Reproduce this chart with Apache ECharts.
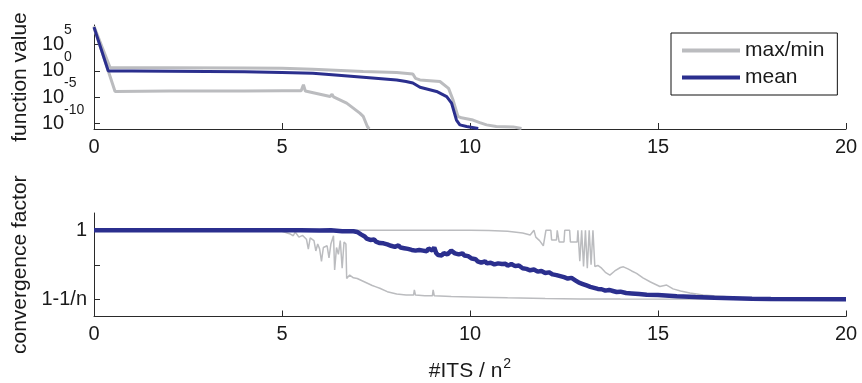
<!DOCTYPE html>
<html>
<head>
<meta charset="utf-8">
<script src="https://cdn.jsdelivr.net/npm/echarts@6/dist/echarts.min.js"></script>
<style>
html,body{margin:0;padding:0;background:#fff;}
#chart{width:862px;height:383px;}
</style>
</head>
<body>
<div id="chart"></div>
<script>
// ---------- data ----------
const xTicks = [0, 5, 10, 15, 20];
const topYTickExp = [-10, -5, 0, 5];          // 10^k tick labels
const botYTicks = [0, 1, 2];                   // 0 -> "1-1/n", 2 -> "1"
const botYTickLabels = ['1-1/n', '', '1'];

// top panel: function value (raw values, shown on a log10 scale)
const topMeanX = [0, 0.38, 1, 2, 3, 4, 5, 5.82, 6.5, 7.16, 8.05, 8.3, 8.48, 8.67, 9.11, 9.38, 9.51, 9.64, 9.73, 9.91, 10.22];
const topMeanY = [2e8, 1, 1, 0.9, 0.8, 0.7, 0.5, 0.37, 0.15, 0.063, 0.02, 0.01, 0.005, 8e-4, 1.3e-4, 1.4e-5, 8e-7, 5e-10, 6e-11, 3e-11, 1.3e-11];
const topMaxX = [0, 0.43, 2, 4, 5, 5.82, 7.16, 8.05, 8.48, 8.55, 8.67, 9.2, 9.43, 9.55, 9.68, 9.77, 10.08, 10.26, 10.44, 10.7, 11.15, 11.37];
const topMaxY = [3e8, 4, 4, 3.5, 3.2, 2, 0.75, 0.5, 0.27, 0.04, 0.02, 0.01, 5e-4, 3e-6, 2.5e-9, 1.3e-9, 5e-10, 1.6e-10, 6e-11, 3e-11, 2.5e-11, 1.2e-11];
const topMinX = [0, 0.56, 2, 4, 5, 5.51, 5.57, 5.62, 6.28, 6.33, 6.37, 6.72, 7.07, 7.16, 7.2, 7.27, 7.32];
const topMinY = [1.5e8, 1.3e-4, 1.5e-4, 1.6e-4, 1.8e-4, 1.8e-4, 2.5e-3, 1.6e-4, 1.4e-5, 4e-5, 1.2e-5, 8e-7, 1e-8, 2.5e-9, 5e-10, 3e-11, 1e-11];

// bottom panel: convergence factor (axis units: 0 = 1-1/n, 2 = 1)
const botMeanX = [0, 5, 5.5, 6, 6.3, 6.6, 6.9, 6.95, 7.0, 7.05, 7.1, 7.15, 7.2, 7.25, 7.3, 7.35, 7.4, 7.45, 7.5, 7.55, 7.6, 7.65, 7.7, 7.75, 7.8, 7.85, 7.9, 7.95, 8.0, 8.05, 8.1, 8.15, 8.2, 8.25, 8.3, 8.35, 8.4, 8.45, 8.5, 8.55, 8.6, 8.65, 8.7, 8.75, 8.8, 8.85, 8.9, 8.95, 9.0, 9.05, 9.1, 9.15, 9.2, 9.25, 9.3, 9.35, 9.4, 9.45, 9.5, 9.55, 9.6, 9.65, 9.7, 9.75, 9.8, 9.85, 9.9, 9.95, 10.0, 10.05, 10.1, 10.15, 10.2, 10.25, 10.3, 10.35, 10.4, 10.45, 10.5, 10.55, 10.6, 10.65, 10.7, 10.75, 10.8, 10.85, 10.9, 10.95, 11.0, 11.05, 11.1, 11.15, 11.2, 11.25, 11.3, 11.35, 11.4, 11.45, 11.5, 11.55, 11.6, 11.65, 11.7, 11.75, 11.8, 11.85, 11.9, 11.95, 12.0, 12.05, 12.1, 12.15, 12.2, 12.25, 12.3, 12.35, 12.4, 12.45, 12.5, 12.55, 12.6, 12.65, 12.7, 12.75, 12.8, 12.85, 12.9, 12.95, 13.0, 13.05, 13.1, 13.15, 13.2, 13.25, 13.3, 13.35, 13.4, 13.45, 13.5, 13.55, 13.6, 13.7, 13.8, 13.9, 14.0, 14.15, 14.3, 14.5, 14.7, 15.0, 15.5, 16.0, 16.5, 17.0, 17.5, 18, 20];
const botMeanY = [2.0, 2.0, 2.0, 1.99, 2.0, 1.97, 1.97, 1.94, 1.95, 1.9, 1.88, 1.84, 1.82, 1.76, 1.74, 1.72, 1.7, 1.73, 1.67, 1.68, 1.63, 1.66, 1.62, 1.65, 1.59, 1.6, 1.55, 1.57, 1.52, 1.54, 1.56, 1.5, 1.52, 1.48, 1.49, 1.46, 1.48, 1.43, 1.45, 1.41, 1.46, 1.43, 1.38, 1.41, 1.43, 1.39, 1.47, 1.44, 1.41, 1.5, 1.34, 1.28, 1.31, 1.27, 1.34, 1.36, 1.3, 1.35, 1.41, 1.45, 1.33, 1.28, 1.3, 1.26, 1.33, 1.27, 1.22, 1.25, 1.2, 1.18, 1.14, 1.16, 1.1, 1.12, 1.06, 1.08, 1.1, 1.04, 1.02, 1.06, 1.05, 1.01, 1.0, 1.04, 1.07, 1.02, 1.0, 1.03, 0.97, 0.99, 1.02, 0.98, 0.96, 1.0, 0.98, 0.93, 0.9, 0.92, 0.88, 0.86, 0.84, 0.87, 0.86, 0.82, 0.8, 0.83, 0.82, 0.78, 0.76, 0.79, 0.78, 0.74, 0.72, 0.75, 0.7, 0.72, 0.67, 0.69, 0.64, 0.66, 0.6, 0.63, 0.62, 0.57, 0.55, 0.52, 0.48, 0.5, 0.44, 0.46, 0.4, 0.42, 0.36, 0.38, 0.33, 0.35, 0.3, 0.32, 0.29, 0.3, 0.25, 0.27, 0.24, 0.21, 0.22, 0.18, 0.17, 0.15, 0.13, 0.12, 0.09, 0.065, 0.045, 0.03, 0.015, 0.008, 0.003, 0.0];
const botMaxX = [0, 10, 10.5, 11, 11.4, 11.6, 11.7, 11.75, 11.85, 11.95, 12.0, 12.02, 12.15, 12.17, 12.3, 12.32, 12.35, 12.37, 12.5, 12.52, 12.55, 12.65, 12.67, 12.85, 12.87, 12.9, 12.92, 12.95, 12.97, 13.0, 13.02, 13.05, 13.07, 13.1, 13.12, 13.15, 13.17, 13.2, 13.22, 13.25, 13.27, 13.3, 13.32, 13.35, 13.4, 13.5, 13.6, 13.72, 13.85, 14.0, 14.08, 14.2, 14.3, 14.43, 14.6, 14.8, 15.05, 15.23, 15.4, 15.6, 15.85, 16.2, 16.65, 17.0, 17.36, 17.7, 18.5, 20];
const botMaxY = [2, 2, 1.99, 1.97, 1.92, 1.86, 2.0, 1.8, 1.7, 1.55, 1.5, 2.0, 2.0, 1.72, 1.72, 2.0, 2.0, 1.66, 1.66, 2.0, 2.0, 2.0, 1.66, 1.66, 2.0, 2.0, 1.1, 1.1, 2.0, 2.0, 0.95, 0.95, 2.0, 2.0, 0.9, 0.9, 2.0, 2.0, 1.0, 1.0, 2.0, 2.0, 0.95, 0.98, 0.98, 0.9, 0.78, 0.7, 0.82, 0.92, 0.94, 0.88, 0.82, 0.75, 0.62, 0.5, 0.37, 0.41, 0.3, 0.24, 0.18, 0.12, 0.085, 0.055, 0.037, 0.015, 0.005, 0];
const botMinX = [0, 4.5, 5.0, 5.2, 5.3, 5.35, 5.45, 5.55, 5.65, 5.7, 5.75, 5.85, 5.9, 5.95, 6.0, 6.05, 6.1, 6.2, 6.25, 6.3, 6.37, 6.4, 6.45, 6.5, 6.55, 6.6, 6.65, 6.7, 6.72, 6.8, 6.9, 7.0, 7.1, 7.2, 7.3, 7.4, 7.5, 7.6, 7.8, 8.05, 8.3, 8.5, 8.52, 8.55, 8.8, 9.0, 9.02, 9.05, 9.5, 10.27, 11, 12, 12.93, 14, 20];
const botMinY = [2, 2, 1.97, 1.9, 1.84, 1.95, 1.8, 1.85, 1.74, 1.45, 1.78, 1.7, 1.4, 1.6, 1.46, 1.1, 1.5, 1.55, 1.2, 1.6, 1.84, 0.85, 1.5, 1.3, 1.7, 0.9, 1.66, 1.6, 0.6, 0.7, 0.62, 0.6, 0.55, 0.5, 0.45, 0.4, 0.36, 0.32, 0.22, 0.15, 0.12, 0.12, 0.27, 0.12, 0.1, 0.1, 0.27, 0.1, 0.08, 0.06, 0.04, 0.02, 0.01, 0.005, 0];

// ---------- chart ----------
const FONT = 'Liberation Sans, Arial, Helvetica, sans-serif';
const GRAY = '#BBBCBF';
const BLUE = '#2B2F8E';
const AXIS = '#2a2a2a';
const TXT = '#1a1a1a';

const zipLog = (xs, ys) => xs.map((x, i) => [x, Math.log10(ys[i])]);
const zip = (xs, ys) => xs.map((x, i) => [x, ys[i]]);

const xAxisCommon = {
  type: 'value', min: xTicks[0], max: xTicks[xTicks.length - 1], interval: 5,
  axisLine: { onZero: false, lineStyle: { color: AXIS, width: 1 } },
  axisTick: { inside: true, length: 6, lineStyle: { color: AXIS } },
  axisLabel: { color: TXT, fontSize: 20, fontFamily: FONT, margin: 8, hideOverlap: false },
  splitLine: { show: false }
};

const chart = echarts.init(document.getElementById('chart'), null, { renderer: 'canvas' });
chart.setOption({
  animation: false,
  backgroundColor: '#fff',
  textStyle: { fontFamily: FONT },
  grid: [
    { left: 94, top: 25, width: 752, height: 104 },
    { left: 94, top: 213, width: 752, height: 106 }
  ],
  legend: {
    data: ['max/min', 'mean'],
    orient: 'vertical',
    left: 671, top: 33,
    icon: 'rect',
    itemWidth: 58, itemHeight: 4, itemGap: 6,
    padding: [7, 13, 7, 11],
    borderColor: '#111', borderWidth: 1, backgroundColor: '#fff',
    textStyle: { color: TXT, fontSize: 21, fontFamily: FONT }
  },
  xAxis: [
    Object.assign({ gridIndex: 0 }, xAxisCommon),
    Object.assign({ gridIndex: 1 }, xAxisCommon, {
      name: '#ITS / n{s|2}', nameLocation: 'middle', nameGap: 41,
      nameTextStyle: {
        color: TXT, fontSize: 21, fontFamily: FONT,
        rich: { s: { fontSize: 14, fontFamily: FONT, color: TXT, padding: [0, 0, 14, 1] } }
      }
    })
  ],
  yAxis: [
    {
      gridIndex: 0, type: 'value', min: -11, max: 8.7,
      name: 'function value', nameLocation: 'middle', nameGap: 58,
      nameTextStyle: { color: TXT, fontSize: 21, fontFamily: FONT },
      axisLine: { show: true, onZero: false, lineStyle: { color: AXIS, width: 1 } },
      axisTick: { show: true, inside: true, length: 6, customValues: topYTickExp, lineStyle: { color: AXIS } },
      axisLabel: {
        customValues: topYTickExp, align: 'left', margin: 52, color: TXT, hideOverlap: false,
        fontSize: 20, fontFamily: FONT,
        formatter: () => '10'
      },
      splitLine: { show: false }
    },
    {
      // exponent part of the 10^k tick labels (same scale as the axis above)
      gridIndex: 0, type: 'value', min: -11, max: 8.7, position: 'left',
      axisLine: { show: false }, axisTick: { show: false }, splitLine: { show: false },
      axisLabel: {
        customValues: topYTickExp, align: 'left', verticalAlign: 'bottom', margin: 30,
        padding: [0, 0, 7, 0], color: TXT, hideOverlap: false,
        fontSize: 14, fontFamily: FONT,
        formatter: v => String(v)
      }
    },
    {
      gridIndex: 1, type: 'value', min: -0.5, max: 2.5,
      name: 'convergence factor', nameLocation: 'middle', nameGap: 58,
      nameTextStyle: { color: TXT, fontSize: 21, fontFamily: FONT },
      axisLine: { show: true, onZero: false, lineStyle: { color: AXIS, width: 1 } },
      axisTick: { show: true, inside: true, length: 6, customValues: botYTicks, lineStyle: { color: AXIS } },
      axisLabel: {
        customValues: [0, 2], margin: 7, color: TXT, fontSize: 20, fontFamily: FONT, hideOverlap: false,
        formatter: v => botYTickLabels[botYTicks.indexOf(Math.round(v))] || ''
      },
      splitLine: { show: false }
    }
  ],
  series: [
    { name: 'max/min', type: 'line', xAxisIndex: 0, yAxisIndex: 0, data: zipLog(topMaxX, topMaxY), symbol: 'none', color: GRAY, lineStyle: { color: GRAY, width: 3 } },
    { name: 'max/min', type: 'line', xAxisIndex: 0, yAxisIndex: 0, data: zipLog(topMinX, topMinY), symbol: 'none', color: GRAY, lineStyle: { color: GRAY, width: 3 } },
    { name: 'mean', type: 'line', xAxisIndex: 0, yAxisIndex: 0, data: zipLog(topMeanX, topMeanY), symbol: 'none', color: BLUE, lineStyle: { color: BLUE, width: 3 } },
    { name: 'max/min', type: 'line', xAxisIndex: 1, yAxisIndex: 2, data: zip(botMaxX, botMaxY), symbol: 'none', color: GRAY, lineStyle: { color: GRAY, width: 1.5 } },
    { name: 'max/min', type: 'line', xAxisIndex: 1, yAxisIndex: 2, data: zip(botMinX, botMinY), symbol: 'none', color: GRAY, lineStyle: { color: GRAY, width: 1.5 } },
    { name: 'mean', type: 'line', xAxisIndex: 1, yAxisIndex: 2, data: zip(botMeanX, botMeanY), symbol: 'none', color: BLUE, lineStyle: { color: BLUE, width: 4.5 } }
  ]
});
</script>
</body>
</html>
